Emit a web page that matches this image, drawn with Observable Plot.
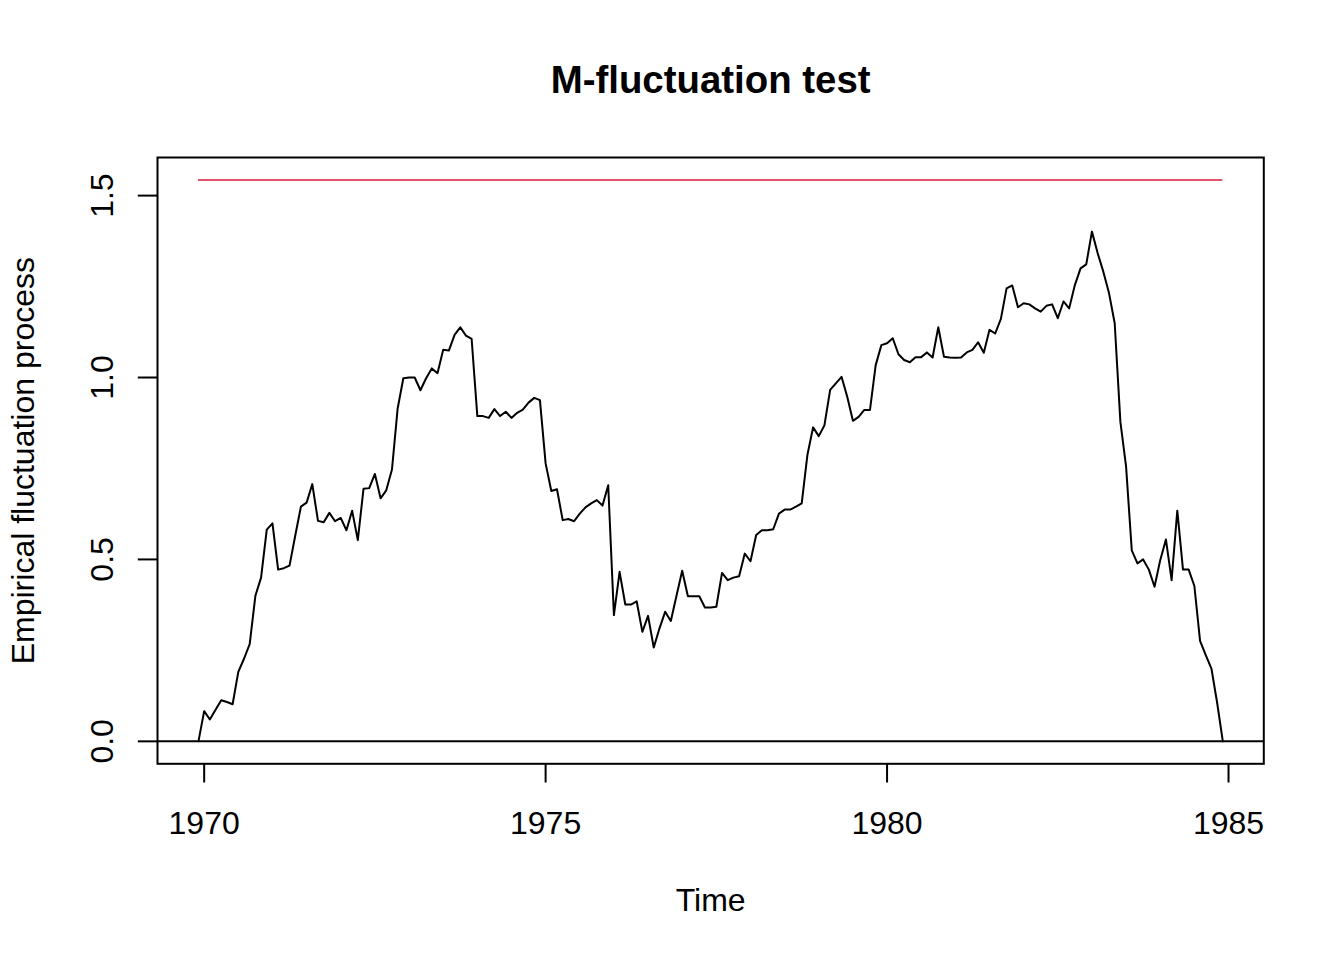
<!DOCTYPE html>
<html>
<head>
<meta charset="utf-8">
<script src="https://cdn.jsdelivr.net/npm/d3@7"></script>
<script src="https://cdn.jsdelivr.net/npm/@observablehq/plot@0.6"></script>
<style>
  html, body { margin: 0; padding: 0; background: white; }
</style>
</head>
<body>
<div id="chart"></div>
<script>
// Time series settings (monthly ts, like R: start = c(1969, 12), frequency = 12)
const startYear = 1969;
const startMonth = 12;
const frequency = 12;

// Empirical fluctuation process values
const processValues = [
  0.000, 0.083, 0.060, 0.087, 0.113, 0.108, 0.102, 0.191, 0.227, 0.267,
  0.400, 0.450, 0.582, 0.599, 0.472, 0.476, 0.483, 0.565, 0.645, 0.656,
  0.707, 0.606, 0.602, 0.628, 0.605, 0.614, 0.580, 0.634, 0.553, 0.694,
  0.696, 0.735, 0.668, 0.690, 0.747, 0.915, 0.998, 1.000, 1.000, 0.965,
  0.998, 1.025, 1.012, 1.076, 1.074, 1.117, 1.138, 1.115, 1.106, 0.894,
  0.894, 0.889, 0.913, 0.894, 0.906, 0.889, 0.903, 0.912, 0.931, 0.944,
  0.938, 0.764, 0.688, 0.693, 0.608, 0.611, 0.605, 0.626, 0.643, 0.654,
  0.663, 0.648, 0.704, 0.347, 0.466, 0.376, 0.376, 0.385, 0.301, 0.345,
  0.258, 0.310, 0.356, 0.331, 0.400, 0.469, 0.399, 0.399, 0.399, 0.368,
  0.368, 0.370, 0.463, 0.443, 0.450, 0.454, 0.516, 0.495, 0.567, 0.580,
  0.580, 0.583, 0.626, 0.637, 0.637, 0.645, 0.654, 0.787, 0.863, 0.839,
  0.869, 0.966, 0.984, 1.002, 0.947, 0.881, 0.892, 0.911, 0.911, 1.034,
  1.089, 1.094, 1.108, 1.064, 1.048, 1.042, 1.056, 1.056, 1.069, 1.055,
  1.138, 1.057, 1.055, 1.054, 1.055, 1.069, 1.076, 1.097, 1.068, 1.131,
  1.121, 1.161, 1.245, 1.253, 1.193, 1.204, 1.201, 1.190, 1.181, 1.197,
  1.201, 1.163, 1.209, 1.190, 1.254, 1.300, 1.311, 1.401, 1.342, 1.291,
  1.232, 1.149, 0.878, 0.755, 0.525, 0.489, 0.500, 0.472, 0.425, 0.498,
  0.555, 0.443, 0.634, 0.472, 0.472, 0.427, 0.276, 0.237, 0.200, 0.106,
  0.000
];

// Critical boundary (red line)
const boundary = 1.543;

// Tick values
const xTicks = [1970, 1975, 1980, 1985];
const yTicks = [0.0, 0.5, 1.0, 1.5];

// Texts
const titleText = "M-fluctuation test";
const xLabel = "Time";
const yLabel = "Empirical fluctuation process";

// Build table
const t0 = startYear + (startMonth - 1) / frequency;
const data = processValues.map((v, i) => ({time: t0 + i / frequency, value: v}));
const tEnd = data[data.length - 1].time;

// R-style 4% axis padding
const xr = [t0, tEnd];
const xPad = 0.04 * (xr[1] - xr[0]);
const yr = [Math.min(0, d3.min(processValues)), Math.max(boundary, d3.max(processValues))];
const yPad = 0.04 * (yr[1] - yr[0]);

const W = 1344, H = 960;
const mL = 157, mR = 80.7, mT = 157, mB = 196.7;

const chart = Plot.plot({
  width: W,
  height: H,
  marginLeft: mL,
  marginRight: mR,
  marginTop: mT,
  marginBottom: mB,
  style: {
    fontFamily: "'Liberation Sans', Arial, Helvetica, sans-serif",
    fontSize: "32px",
    background: "white",
    color: "black",
    overflow: "visible"
  },
  x: {domain: [xr[0] - xPad, xr[1] + xPad]},
  y: {domain: [yr[0] - yPad, yr[1] + yPad]},
  marks: [
    // axis ticks only
    Plot.axisX({ticks: xTicks, tickSize: 19.2, strokeWidth: 2, fill: "none", label: null}),
    Plot.axisY({ticks: yTicks, tickSize: 19.2, strokeWidth: 2, fill: "none", label: null}),
    // tick labels
    Plot.text(xTicks, {x: d => d, text: d => String(d), frameAnchor: "bottom", lineAnchor: "bottom",
      dy: 70, fontSize: 32, fill: "black"}),
    Plot.text(yTicks, {y: d => d, text: d => d.toFixed(1), frameAnchor: "left", lineAnchor: "bottom",
      rotate: -90, textAnchor: "middle", dx: -45, fontSize: 32, fill: "black"}),
    // axis titles and main title
    Plot.text([xLabel], {text: d => d, frameAnchor: "bottom", lineAnchor: "bottom", dy: 147,
      fontSize: 32, fill: "black"}),
    Plot.text([yLabel], {text: d => d, frameAnchor: "left", lineAnchor: "bottom", rotate: -90,
      textAnchor: "middle", dx: -123.5, fontSize: 32, fill: "black"}),
    Plot.text([titleText], {text: d => d, frameAnchor: "top", lineAnchor: "bottom", dy: -64.3,
      fontSize: 38.4, fontWeight: "bold", fill: "black"}),
    // zero reference line
    Plot.ruleY([0], {stroke: "black", strokeWidth: 2}),
    // boundary
    Plot.ruleY([boundary], {x1: t0, x2: tEnd, stroke: "#DF536B", strokeWidth: 2}),
    // process
    Plot.lineY(data, {x: "time", y: "value", stroke: "black", strokeWidth: 2,
      strokeLinejoin: "round", strokeLinecap: "round"}),
    Plot.frame({stroke: "black", strokeWidth: 2})
  ]
});

document.getElementById("chart").appendChild(chart);
</script>
</body>
</html>
